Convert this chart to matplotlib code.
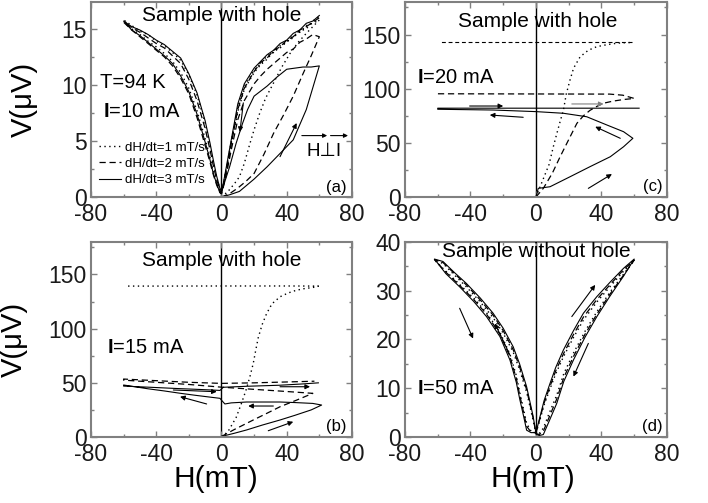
import numpy as np
import matplotlib
matplotlib.use("Agg")
import matplotlib.pyplot as plt
from matplotlib.ticker import MultipleLocator

plt.rcParams['font.family'] = ['Liberation Sans', 'DejaVu Sans']
plt.rcParams['axes.unicode_minus'] = False
plt.rcParams['mathtext.fontset'] = 'custom'
plt.rcParams['mathtext.rm'] = 'Liberation Sans'
plt.rcParams['mathtext.bf'] = 'Liberation Sans:bold'

# ---------------- panel (a): I = 10 mA, sample with hole ----------------
a_dot_virgin_H = [0, 4, 8, 11, 14, 17.5, 20, 23.5, 27, 32, 37, 42, 47, 52, 56, 60]
a_dot_virgin_V = [0.0, 0.5, 1.2, 1.8, 3.0, 4.8, 6.0, 7.5, 8.8, 10.2, 11.6, 12.8, 13.8, 14.6, 15.2, 15.8]
a_dash_virgin_H = [0, 5, 10, 15, 20, 26, 32, 38, 44, 50, 55, 60]
a_dash_virgin_V = [0.0, 0.3, 0.8, 1.4, 2.1, 3.8, 5.7, 7.3, 9.0, 11.0, 12.6, 14.3]
a_solid_virgin_H = [0, 5, 11, 20, 28, 36, 44, 52, 60]
a_solid_virgin_V = [0.0, 0.2, 0.5, 1.6, 2.7, 3.9, 5.1, 7.8, 11.7]
a_solid_inner_H = [60, 55, 50, 45, 40, 34, 28, 20, 16, 13, 9, 5, 1, 0]
a_solid_inner_V = [11.7, 11.6, 11.6, 11.5, 11.4, 10.7, 9.9, 9.0, 7.8, 6.6, 4.8, 2.7, 0.9, 0.5]

a_right_H = [0, 1, 3, 6, 10, 14, 20, 24, 28, 32, 36, 40, 44, 48, 52, 56, 60]
a_dot_desc_V = [0.5, 1.0, 2.6, 4.9, 8.0, 9.9, 11.3, 11.9, 12.6, 12.9, 13.5, 13.8, 14.4, 14.7, 15.3, 15.5, 15.8]
a_dot_up_V = [0.4, 0.9, 2.3, 4.7, 7.6, 9.6, 11.1, 11.8, 12.3, 13.0, 13.3, 13.9, 14.2, 14.8, 15.0, 15.7, 16.1]
a_dash_desc_V = [0.3, 0.8, 2.0, 4.2, 6.9, 8.6, 10.1, 10.8, 11.4, 11.9, 12.4, 12.9, 13.2, 13.8, 14.1, 14.5, 14.3]
a_dash_up_V = [0.4, 1.0, 2.5, 4.8, 7.8, 9.7, 11.2, 12.0, 12.4, 13.1, 13.4, 14.0, 14.3, 14.9, 15.2, 15.6, 16.0]
a_solid_up_V = [0.5, 1.1, 2.7, 5.1, 8.3, 10.1, 11.5, 12.1, 12.7, 13.1, 13.7, 14.0, 14.6, 14.9, 15.5, 15.7, 16.2]

a_left_H = [0, -1, -3, -5, -7, -10, -15, -20, -25, -30, -35, -40, -45, -50, -55, -60]
a_dot_out_V = [0.5, 0.7, 1.8, 3.1, 4.6, 6.6, 9.1, 10.9, 12.2, 12.9, 13.5, 13.9, 14.5, 14.8, 15.3, 15.8]
a_dot_back_V = [0.4, 0.5, 1.3, 2.3, 3.5, 5.2, 7.7, 9.7, 11.1, 12.1, 12.8, 13.4, 13.9, 14.5, 15.0, 15.8]
a_dash_out_V = [0.4, 0.6, 1.6, 2.8, 4.2, 6.1, 8.6, 10.5, 11.9, 12.6, 13.3, 13.7, 14.2, 14.7, 15.1, 15.6]
a_dash_back_V = [0.3, 0.4, 1.1, 2.0, 3.1, 4.6, 7.1, 9.2, 10.6, 11.7, 12.5, 13.1, 13.7, 14.3, 14.9, 15.6]
a_solid_out_V = [0.5, 0.8, 1.9, 3.3, 4.8, 6.8, 9.3, 11.0, 12.4, 13.0, 13.6, 14.0, 14.5, 14.9, 15.2, 15.7]
a_solid_back_V = [0.3, 0.4, 1.2, 2.1, 3.3, 4.9, 7.4, 9.4, 10.8, 11.9, 12.6, 13.2, 13.8, 14.4, 14.9, 15.7]

# ---------------- panel (b): I = 15 mA, sample with hole ----------------
b_dot_H = [0, 4, 9, 12, 15, 17.5, 19.5, 21, 22.6, 25, 27.7, 31, 36, 41, 46, 51, 56, 59.4, 40, 0, -40, -58]
b_dot_V = [0, 5, 18, 30, 43, 56, 68, 80, 92, 104, 114, 123, 129.5, 133, 135.5, 137, 138, 139.3,
           139.4, 139.4, 139.3, 139.3]
b_dash_H = [0, 8, 19.5, 28, 36, 46, 56, 40, 20, 0, -20, -40, -60, -60, -40, -20, 0, 20, 40, 57]
b_dash_V = [0.5, 7, 15.7, 22, 28, 34, 40.3, 42, 44, 46, 48.5, 50.5, 52.5, 53.5, 52, 50.5, 49.5,
            50, 50.8, 51.5]
b_solid_H = [0, 8, 15.4, 25, 35.9, 45, 55, 61.4, 56, 45, 35.9, 25, 15.4, 6, 2.1, 0, -0.9, -8, -16,
             -25, -35, -45, -60, -60, -45, -35, -25, -15, -5, -0.9, 1.1, 15, 35.9, 50, 59.4]
b_solid_V = [0.5, 3.5, 6.5, 11, 15.7, 20, 25, 29.5, 31, 31.8, 32.3, 32.3, 32.3, 31.5, 30.5, 34, 35.7,
             37, 38.5, 40.3, 42.5, 44.5, 48, 47, 46, 45.3, 44.6, 44, 43.3, 43, 45.9, 46.8, 47.8, 49, 50]

# ---------------- panel (c): I = 20 mA, sample with hole ----------------
c_dot_H = [0, 4, 8, 10.6, 13, 15, 16.8, 18.5, 20.8, 23, 27, 32, 37.2, 43, 49.5, 55, 58.7]
c_dot_V = [0, 15, 30, 46.4, 60, 71, 80.3, 95, 108, 119, 129.5, 135.5, 138.8, 140.5, 142, 142.5, 142.6]
c_top_H = [58.7, -59]
c_top_V = [143.4, 143.4]
c_dash_H = [0, 4.5, 10, 14.7, 20, 25, 29, 33, 37, 41, 47, 53.5, 60, 53, 45, -61]
c_dash_V = [0, 8, 22, 37, 53, 68, 75, 80, 83.5, 86.5, 88.5, 90, 91, 94, 95, 95.3]
c_solid_H = [0, 1.4, 8.6, 20.8, 33, 45.4, 53.5, 59.2, 53.5, 43.3, 31, 16.8, 0.4, -26, -60, -60, 63]
c_solid_V = [0, 8, 9.5, 18.7, 28, 37.2, 46.4, 54.2, 60.3, 66.5, 74.1, 77.3, 78.8, 80.3, 81, 82, 82]

# ---------------- panel (d): I = 50 mA, sample without hole ----------------
d_rup_H = [0, 2.5, 5, 8.6, 12, 16.7, 22.9, 29, 37.2, 45.4, 53.5, 60]
d_solid_rup_V = [0.9, 4.2, 7.5, 11, 14.2, 17.8, 21.8, 25.4, 28.8, 31.8, 34.6, 36.5]
d_dash_rup_V = [0.9, 3.9, 7.0, 10.4, 13.5, 17.0, 21.0, 24.6, 28.2, 31.3, 34.3, 36.3]
d_dot_rup_V = [0.8, 3.6, 6.6, 9.9, 12.9, 16.4, 20.4, 24.0, 27.7, 30.9, 34.0, 36.2]
d_rdown_H = [60, 53.5, 45, 37.2, 30, 22.9, 17, 12.7, 8, 4.5, 2, 0]
d_solid_rdown_V = [36.5, 33, 28.8, 24.7, 20.5, 15.8, 11.4, 6.9, 3.2, 0.5, 0.3, 0.6]
d_dash_rdown_V = [36.3, 33.2, 29.2, 25.2, 21.1, 16.5, 12.2, 7.8, 4.0, 1.2, 0.5, 0.7]
d_dot_rdown_V = [36.2, 33.4, 29.6, 25.7, 21.7, 17.2, 13.0, 8.6, 4.8, 1.8, 0.7, 0.7]
d_lout_H = [0, -1.7, -5.7, -10, -13.9, -20, -26.2, -34, -42.5, -50, -56.8, -62]
d_solid_lout_V = [0.8, 4.2, 10.3, 15, 18.5, 22.3, 25.4, 28.5, 31.5, 33.8, 36, 36.5]
d_dash_lout_V = [0.8, 3.8, 9.7, 14.4, 17.9, 21.8, 25.0, 28.1, 31.2, 33.6, 35.8, 36.4]
d_dot_lout_V = [0.7, 3.4, 9.2, 13.8, 17.4, 21.3, 24.5, 27.7, 30.8, 33.3, 35.6, 36.3]
d_lback_H = [-62, -55, -46.6, -38, -30.2, -22, -15.9, -12, -9.8, -7.5, -5.7, -3, -0.6]
d_solid_lback_V = [36.5, 33.5, 30.8, 27.8, 24.7, 20.6, 15.8, 11.2, 7.6, 4.2, 1.4, 0.9, 0.9]
d_dash_lback_V = [36.4, 33.8, 31.1, 28.2, 25.2, 21.1, 16.5, 12.0, 8.4, 5.0, 2.2, 1.0, 0.9]
d_dot_lback_V = [36.3, 34.0, 31.3, 28.5, 25.5, 21.5, 17.0, 12.6, 9.0, 5.6, 2.8, 1.2, 0.9]

legend_labels = ['dH/dt=1 mT/s', 'dH/dt=2 mT/s', 'dH/dt=3 mT/s']

# sweep-direction arrows, (start, end) in data coordinates
a_arrows = [((35.9, 3.6), (46.1, 6.6)), ((13.4, 8.4), (11.3, 5.8))]
b_arrows = [((-9.1, 30.5), (-25.4, 37.2)), ((-29.5, 43.4), (-2.9, 41.8)),
            ((35.9, 46.4), (54.3, 46.4)), ((31.8, 28.6), (16.4, 28.6)),
            ((28.7, 5.8), (44.0, 14.1))]
c_arrows = [((-40.5, 84), (-20, 84)), ((-7.8, 73.6), (-28.2, 75.7)),
            ((51.5, 54.2), (36.2, 64.9)), ((32, 8), (46.4, 21.2))]
c_gray_arrow = ((21.9, 85.9), (41.3, 85.9))
d_arrows = [((-46.6, 26.4), (-38.4, 20.2)), ((-15.9, 16.8), (-25.1, 23.3)),
            ((21.9, 24.7), (36.2, 31.2)), ((32, 19.2), (22.9, 12.4))]

DOT = dict(color='k', lw=1.0, linestyle=(0, (1, 2.5)))
DASH = dict(color='k', lw=0.9, linestyle=(0, (5, 3)))
SOLID = dict(color='k', lw=0.8)


def join(*parts):
    return np.concatenate([np.asarray(p, dtype=float) for p in parts])


def style_axes(ax, ymax, ymajor, yminor):
    ax.set_xlim(-80, 80)
    ax.set_ylim(0, ymax)
    ax.xaxis.set_major_locator(MultipleLocator(40))
    ax.xaxis.set_minor_locator(MultipleLocator(20))
    ax.yaxis.set_major_locator(MultipleLocator(ymajor))
    ax.yaxis.set_minor_locator(MultipleLocator(yminor))
    ax.tick_params(which='both', direction='in', top=True, right=True,
                   color='#808080', labelcolor='#1a1a1a', labelsize=16.5)
    ax.tick_params(which='major', length=4, width=1)
    ax.tick_params(which='minor', length=2.5, width=1)
    ax.tick_params(axis='x', pad=4)
    ax.tick_params(axis='y', pad=3)
    for sp in ax.spines.values():
        sp.set_color('#808080')
        sp.set_linewidth(1.5)
    ax.axvline(0, color='k', lw=1.0, zorder=1)


def draw_arrows(ax, arrows, color='k'):
    for start, end in arrows:
        ax.annotate('', xy=end, xytext=start,
                    arrowprops=dict(arrowstyle='-|>', color=color, lw=0.8,
                                    mutation_scale=7, shrinkA=0, shrinkB=0))


fig = plt.figure(figsize=(7.08, 5.03), dpi=100)
ax_a = fig.add_axes([0.1285, 0.6083, 0.3686, 0.3877])
ax_b = fig.add_axes([0.1285, 0.1312, 0.3686, 0.3877])
ax_c = fig.add_axes([0.5720, 0.6083, 0.3700, 0.3877])
ax_d = fig.add_axes([0.5720, 0.1312, 0.3700, 0.3877])

# ---- (a)
style_axes(ax_a, 17.4, 5, 2.5)
rev = slice(None, None, -1)
l_dot, = ax_a.plot(join(a_dot_virgin_H, a_right_H[rev], a_left_H, a_left_H[rev], a_right_H),
                   join(a_dot_virgin_V, a_dot_desc_V[rev], a_dot_out_V, a_dot_back_V[rev], a_dot_up_V),
                   **DOT)
l_dash, = ax_a.plot(join(a_dash_virgin_H, a_right_H[rev], a_left_H, a_left_H[rev], a_right_H),
                    join(a_dash_virgin_V, a_dash_desc_V[rev], a_dash_out_V, a_dash_back_V[rev], a_dash_up_V),
                    **DASH)
l_solid, = ax_a.plot(join(a_solid_virgin_H, a_solid_inner_H, a_left_H, a_left_H[rev], a_right_H),
                     join(a_solid_virgin_V, a_solid_inner_V, a_solid_out_V, a_solid_back_V[rev], a_solid_up_V),
                     **SOLID)
draw_arrows(ax_a, a_arrows)
ax_a.text(0.5, 0.93, 'Sample with hole', transform=ax_a.transAxes, ha='center', va='center', fontsize=15)
ax_a.text(0.035, 0.585, 'T=94 K', transform=ax_a.transAxes, ha='left', va='center', fontsize=14.5)
ax_a.text(0.045, 0.44, r'$\mathbf{I}$=10 mA', transform=ax_a.transAxes, ha='left', va='center', fontsize=14.5)
ax_a.text(0.98, 0.05, '(a)', transform=ax_a.transAxes, ha='right', va='center', fontsize=12)
ax_a.text(0.895, 0.235, 'H\u22a5I', transform=ax_a.transAxes, ha='center', va='center', fontsize=13.5)
for x0, x1 in [(0.808, 0.905), (0.918, 0.985)]:
    ax_a.annotate('', xy=(x1, 0.315), xytext=(x0, 0.315), xycoords='axes fraction',
                  arrowprops=dict(arrowstyle='-|>', color='k', lw=0.8, mutation_scale=6,
                                  shrinkA=0, shrinkB=0))
ax_a.legend([l_dot, l_dash, l_solid], legend_labels, loc='lower left',
            bbox_to_anchor=(0.03, 0.055), frameon=False, fontsize=9.5, handlelength=1.7,
            handletextpad=0.3, labelspacing=0.3, borderpad=0, borderaxespad=0)
ax_a.set_ylabel('V(\u03bcV)', fontsize=21)
ax_a.yaxis.set_label_coords(-0.205, 0.5)

# ---- (b)
style_axes(ax_b, 180, 50, 25)
ax_b.plot(b_dot_H, b_dot_V, **DOT)
ax_b.plot(b_dash_H, b_dash_V, **DASH)
ax_b.plot(b_solid_H, b_solid_V, **SOLID)
draw_arrows(ax_b, b_arrows)
ax_b.text(0.5, 0.905, 'Sample with hole', transform=ax_b.transAxes, ha='center', va='center', fontsize=15)
ax_b.text(0.06, 0.46, r'$\mathbf{I}$=15 mA', transform=ax_b.transAxes, ha='left', va='center', fontsize=14.5)
ax_b.text(0.98, 0.056, '(b)', transform=ax_b.transAxes, ha='right', va='center', fontsize=12)
ax_b.set_ylabel('V(\u03bcV)', fontsize=21)
ax_b.yaxis.set_label_coords(-0.24, 0.5)
ax_b.set_xlabel('H(mT)', fontsize=21.5)
ax_b.xaxis.set_label_coords(0.48, -0.145)

# ---- (c)
style_axes(ax_c, 180, 50, 25)
ax_c.plot(c_dot_H, c_dot_V, **DOT)
ax_c.plot(c_top_H, c_top_V, color='k', lw=0.8, linestyle=(0, (3.5, 2.5)))
ax_c.plot(c_dash_H, c_dash_V, **DASH)
ax_c.plot(c_solid_H, c_solid_V, **SOLID)
draw_arrows(ax_c, c_arrows)
draw_arrows(ax_c, [c_gray_arrow], color='#808080')
ax_c.text(0.505, 0.9, 'Sample with hole', transform=ax_c.transAxes, ha='center', va='center', fontsize=15)
ax_c.text(0.045, 0.613, r'$\mathbf{I}$=20 mA', transform=ax_c.transAxes, ha='left', va='center', fontsize=14.5)
ax_c.text(0.985, 0.054, '(c)', transform=ax_c.transAxes, ha='right', va='center', fontsize=12)

# ---- (d)
style_axes(ax_d, 40, 10, 5)
ax_d.plot(join(d_rup_H, d_rdown_H, d_lout_H, d_lback_H),
          join(d_dot_rup_V, d_dot_rdown_V, d_dot_lout_V, d_dot_lback_V), **DOT)
ax_d.plot(join(d_rup_H, d_rdown_H, d_lout_H, d_lback_H),
          join(d_dash_rup_V, d_dash_rdown_V, d_dash_lout_V, d_dash_lback_V), **DASH)
ax_d.plot(join(d_rup_H, d_rdown_H, d_lout_H, d_lback_H),
          join(d_solid_rup_V, d_solid_rdown_V, d_solid_lout_V, d_solid_lback_V), **SOLID)
draw_arrows(ax_d, d_arrows)
ax_d.text(0.5, 0.95, 'Sample without hole', transform=ax_d.transAxes, ha='center', va='center', fontsize=15)
ax_d.text(0.045, 0.25, r'$\mathbf{I}$=50 mA', transform=ax_d.transAxes, ha='left', va='center', fontsize=14.5)
ax_d.text(0.985, 0.056, '(d)', transform=ax_d.transAxes, ha='right', va='center', fontsize=12)
ax_d.set_xlabel('H(mT)', fontsize=21.5)
ax_d.xaxis.set_label_coords(0.49, -0.145)

fig.savefig('out.png', dpi=100)
